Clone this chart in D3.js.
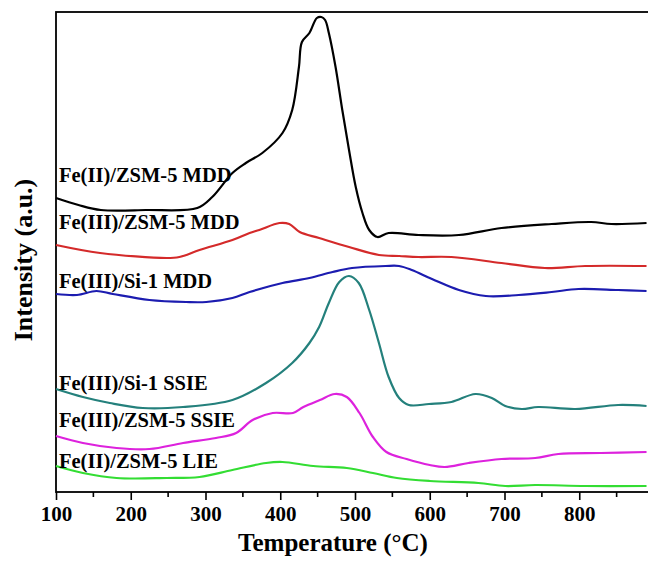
<!DOCTYPE html>
<html>
<head>
<meta charset="utf-8">
<script src="https://cdn.jsdelivr.net/npm/d3@7"></script>
<style>
  body { margin: 0; background: #fff; }
  svg { display: block; }
  .lbl, .title { font-family: "Liberation Serif", "Times New Roman", serif; font-weight: bold; fill: #000; }
</style>
</head>
<body>
<svg id="chart"></svg>
<script>
// TPD profiles (temperature in °C, intensity in a.u.)
var feIIZsmMdd = [[100,294],[130,287],[160,282],[220,282],[289,284],[309,295],[336,319],[354,329],[376,339],[403,359],[416,382],[425,425],[429,450],[439,459],[449,474],[455,475],[460,472],[465,459],[474,425],[483,382],[492,342],[501,305],[510,279],[519,262],[530,255],[545,259],[585,257],[639,257],[696,264],[763,268],[816,270],[843,268],[890,269]];
var feIIIZsmMdd = [[100,247],[159,239],[248,234],[265,235],[292,242],[336,252],[359,259],[372,262],[399,269],[412,268],[426,260],[452,254],[492,245],[532,237],[559,236],[585,235],[629,235],[696,229],[754,224],[808,226],[890,226]];
var feIIISiMdd = [[100,198],[128,197],[154,201],[176,198],[225,192],[274,190],[301,190],[336,194],[359,200],[403,209],[439,214],[470,220],[496,224],[541,226],[559,226],[576,222],[603,213],[639,202],[675,196],[719,197],[763,200],[799,203],[852,202],[890,201]];
var feIIISiSsie = [[100,103],[136,95],[172,89],[216,84],[270,85],[336,92],[381,109],[416,129],[439,149],[452,165],[465,189],[479,210],[492,216],[505,209],[519,182],[532,149],[545,115],[559,94],[572,87],[599,88],[629,90],[661,98],[683,94],[701,86],[723,83],[745,85],[795,83],[852,87],[890,86]];
var feIIIZsmSsie = [[100,56],[136,49],[181,44],[225,43],[270,49],[314,54],[341,59],[363,72],[390,79],[417,79],[431,85],[453,92],[473,98],[489,95],[506,79],[524,55],[542,40],[569,33],[600,27],[620,25],[652,29],[696,33],[741,34],[772,38],[829,39],[890,40]];
var feIIZsmLie = [[100,26],[136,19],[181,14],[248,14],[292,15],[336,22],[381,29],[403,30],[444,26],[489,24],[524,19],[556,14],[600,11],[665,9],[701,6],[741,7],[808,6],[890,6]];

var seriesNames = ["Fe(II)/ZSM-5 MDD", "Fe(III)/ZSM-5 MDD", "Fe(III)/Si-1 MDD", "Fe(III)/Si-1 SSIE", "Fe(III)/ZSM-5 SSIE", "Fe(II)/ZSM-5 LIE"];
var seriesData = [feIIZsmMdd, feIIIZsmMdd, feIIISiMdd, feIIISiSsie, feIIIZsmSsie, feIIZsmLie];
var seriesColors = ["#000000", "#d42a2a", "#1c1cb0", "#24807c", "#dd22dd", "#33dd33"];
// label baseline intensity for each curve name
var labelLevels = [310, 263, 204, 102, 65, 24];

var xTicks = [100, 200, 300, 400, 500, 600, 700, 800];
var xMinor = [150, 250, 350, 450, 550, 650, 750, 850];

var W = 648, H = 561;
var svg = d3.select("#chart").attr("width", W).attr("height", H);

var x = d3.scaleLinear().domain([100, 900]).range([56, 654]),
    y = d3.scaleLinear().domain([0, 480]).range([492, 12]);

var line = d3.line()
    .curve(d3.curveCatmullRom.alpha(0.5))
    .x(function (d) { return x(d[0]); })
    .y(function (d) { return y(d[1]); });

// frame
svg.append("rect")
    .attr("x", x(100)).attr("y", y(480))
    .attr("width", x(900) - x(100)).attr("height", y(0) - y(480))
    .attr("fill", "none").attr("stroke", "#000").attr("stroke-width", 1.8);

// x axis
var gx = svg.append("g").attr("transform", "translate(0," + y(0) + ")");
gx.call(d3.axisBottom(x).tickValues(xTicks).tickSize(8).tickPadding(6).tickFormat(d3.format("d")));
gx.select(".domain").remove();
gx.selectAll(".tick line").attr("stroke-width", 1.6);
gx.selectAll(".tick text").attr("font-size", 21)
    .style("font-family", '"Liberation Serif", serif').style("font-weight", "bold");

svg.append("g").selectAll("line").data(xMinor).enter().append("line")
    .attr("x1", function (d) { return x(d); }).attr("x2", function (d) { return x(d); })
    .attr("y1", y(0)).attr("y2", y(0) + 5)
    .attr("stroke", "#000").attr("stroke-width", 1.6);

// curves
svg.append("g").selectAll("path").data(seriesData).enter().append("path")
    .attr("d", line)
    .attr("fill", "none")
    .attr("stroke", function (d, i) { return seriesColors[i]; })
    .attr("stroke-width", 2.2)
    .attr("stroke-linejoin", "round");

// curve names
svg.append("g").selectAll("text").data(seriesNames).enter().append("text")
    .attr("class", "lbl")
    .attr("x", x(100) + 3)
    .attr("y", function (d, i) { return y(labelLevels[i]); })
    .attr("font-size", 20.5)
    .text(function (d) { return d; });

// axis titles
svg.append("text").attr("class", "title")
    .attr("x", 333).attr("y", 551)
    .attr("text-anchor", "middle").attr("font-size", 25)
    .text("Temperature (°C)");

svg.append("text").attr("class", "title")
    .attr("transform", "translate(32,260) rotate(-90)")
    .attr("text-anchor", "middle").attr("font-size", 26)
    .text("Intensity (a.u.)");
</script>
</body>
</html>
